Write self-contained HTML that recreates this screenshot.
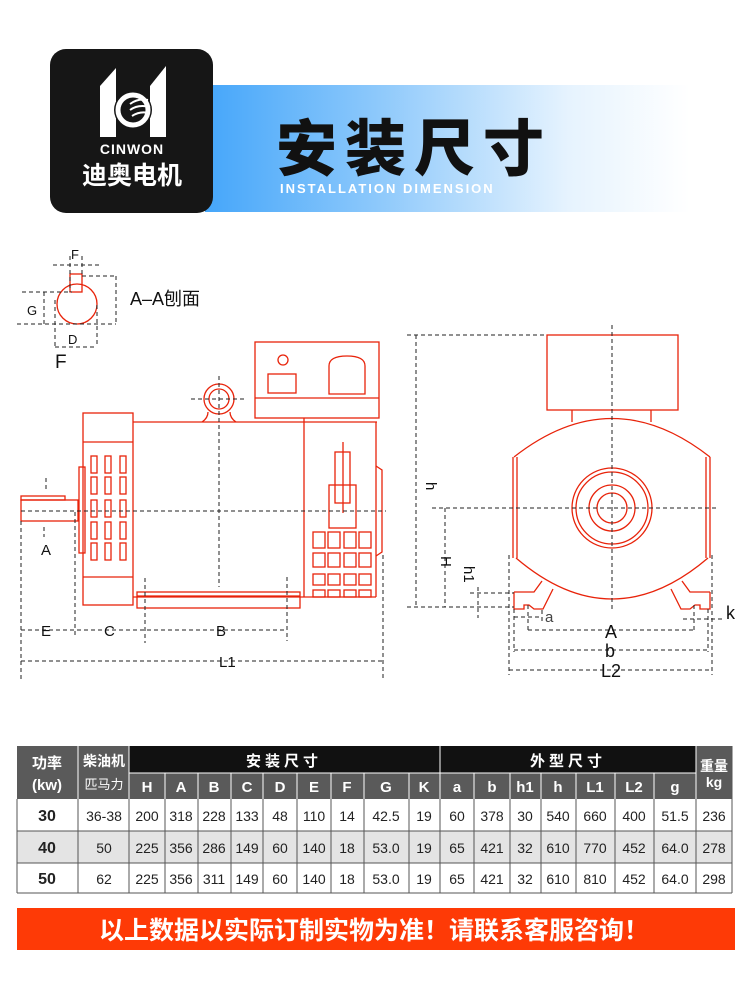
<!DOCTYPE html>
<html><head><meta charset="utf-8"><style>
html,body{margin:0;padding:0;background:#fff;}
svg{display:block;}
text{font-family:"Liberation Sans","Noto Sans CJK SC",sans-serif;}
</style></head><body>
<svg width="750" height="994" viewBox="0 0 750 994" xmlns="http://www.w3.org/2000/svg">
<defs>
<linearGradient id="bg" x1="0" x2="1" y1="0" y2="0">
<stop offset="0" stop-color="#45a6fa"/><stop offset="0.35" stop-color="#8cc8fb"/><stop offset="0.75" stop-color="#e6f3fe"/><stop offset="1" stop-color="#ffffff"/>
</linearGradient>
</defs>
<rect x="205" y="85" width="485" height="127" fill="url(#bg)"/>
<rect x="50" y="49" width="163" height="164" rx="16" fill="#161616"/>
<polygon points="100,137 100,86 116,68 116,137" fill="#fff"/>
<polygon points="150,137 150,86 166,66 166,137" fill="#fff"/>
<circle cx="133" cy="110" r="19" fill="#161616"/>
<circle cx="133" cy="110" r="15" fill="none" stroke="#fff" stroke-width="5"/>
<path d="M130 104 q8 -6 18 -4 M130 110 q8 -6 20 -3 M132 116 q8 -5 16 -3" stroke="#fff" stroke-width="2" fill="none"/>
<text x="132" y="154" font-size="14" font-weight="bold" fill="#fff" text-anchor="middle" letter-spacing="1">CINWON</text>
<text x="132" y="184" font-size="25" font-weight="bold" fill="#fff" text-anchor="middle">迪奥电机</text>
<text x="276" y="170" font-size="61" font-weight="900" fill="#111" letter-spacing="8">安装尺寸</text>
<text x="280" y="193" font-size="13" font-weight="bold" fill="#fff" letter-spacing="2">INSTALLATION DIMENSION</text>

<g fill="none" stroke="#e8230a" stroke-width="1.3">
<circle cx="77" cy="304" r="20"/>
<rect x="70" y="274" width="12" height="18"/>
<rect x="255" y="342" width="124" height="76"/>
<line x1="255" y1="398" x2="379" y2="398"/>
<circle cx="283" cy="360" r="5"/>
<rect x="268" y="374" width="28" height="19"/>
<path d="M329 394 V366 q0 -10 18 -10 q18 0 18 10 V394 Z"/>
<circle cx="219" cy="399" r="15"/><circle cx="219" cy="399" r="10"/>
<path d="M202 422 q6 -4 6 -10 M236 422 q-6 -4 -6 -10"/>
<line x1="133" y1="422" x2="377" y2="422"/>
<rect x="83" y="413" width="50" height="192"/>
<line x1="83" y1="442" x2="133" y2="442"/><line x1="83" y1="577" x2="133" y2="577"/>
<g>
<rect x="91" y="456" width="6" height="17"/><rect x="105" y="456" width="6" height="17"/><rect x="120" y="456" width="6" height="17"/>
<rect x="91" y="477" width="6" height="17"/><rect x="105" y="477" width="6" height="17"/><rect x="120" y="477" width="6" height="17"/>
<rect x="91" y="500" width="6" height="17"/><rect x="105" y="500" width="6" height="17"/><rect x="120" y="500" width="6" height="17"/>
<rect x="91" y="522" width="6" height="17"/><rect x="105" y="522" width="6" height="17"/><rect x="120" y="522" width="6" height="17"/>
<rect x="91" y="543" width="6" height="17"/><rect x="105" y="543" width="6" height="17"/><rect x="120" y="543" width="6" height="17"/>
</g>
<rect x="79" y="467" width="6" height="86"/>
<rect x="21" y="500" width="57" height="21"/>
<rect x="21" y="496" width="44" height="4"/>
<line x1="304" y1="418" x2="304" y2="597"/>
<line x1="376" y1="422" x2="376" y2="597"/>
<line x1="133" y1="597" x2="376" y2="597"/>
<path d="M376 466 l6 4 V552 l-6 4"/>
<rect x="335" y="452" width="15" height="51"/>
<rect x="329" y="485" width="27" height="43"/>
<line x1="343" y1="442" x2="343" y2="513"/>
<g>
<rect x="313" y="532" width="12" height="16"/><rect x="328" y="532" width="12" height="16"/><rect x="344" y="532" width="12" height="16"/><rect x="359" y="532" width="12" height="16"/>
<rect x="313" y="553" width="12" height="14"/><rect x="328" y="553" width="12" height="14"/><rect x="344" y="553" width="12" height="14"/><rect x="359" y="553" width="12" height="14"/>
<rect x="313" y="574" width="12" height="11"/><rect x="328" y="574" width="12" height="11"/><rect x="344" y="574" width="12" height="11"/><rect x="359" y="574" width="12" height="11"/>
<rect x="313" y="590" width="12" height="7"/><rect x="328" y="590" width="12" height="7"/><rect x="344" y="590" width="12" height="7"/><rect x="359" y="590" width="12" height="7"/>
</g>
<rect x="137" y="592" width="163" height="16"/>
<line x1="137" y1="596" x2="300" y2="596"/>
<rect x="547" y="335" width="131" height="75"/>
<line x1="572" y1="410" x2="572" y2="422"/><line x1="651" y1="410" x2="651" y2="422"/>
<path d="M514 457 Q612 380 710 457"/>
<path d="M516 558 Q612 640 708 558"/>
<line x1="513" y1="457" x2="513" y2="558"/><line x1="517" y1="457" x2="517" y2="558"/>
<line x1="706" y1="457" x2="706" y2="558"/><line x1="710" y1="457" x2="710" y2="558"/>
<circle cx="612" cy="508" r="40"/><circle cx="612" cy="508" r="36"/><circle cx="612" cy="508" r="23"/><circle cx="612" cy="508" r="15"/>
<path d="M514 592 h20 l8 -11 M514 592 v17 h10 v-4 h5 l5 4 h9 l10 -20"/>
<path d="M710 592 h-20 l-8 -11 M710 592 v17 h-10 v-4 h-5 l-5 4 h-9 l-10 -20"/>
</g>

<g fill="none" stroke="#222" stroke-width="1" stroke-dasharray="4,3">
<line x1="53" y1="265" x2="99" y2="265"/><line x1="70" y1="256" x2="70" y2="292"/><line x1="82" y1="256" x2="82" y2="274"/>
<line x1="82" y1="276" x2="116" y2="276"/><line x1="116" y1="276" x2="116" y2="324"/>
<line x1="22" y1="292" x2="72" y2="292"/><line x1="44" y1="292" x2="44" y2="324"/>
<line x1="17" y1="324" x2="116" y2="324"/>
<line x1="55" y1="300" x2="55" y2="347"/><line x1="97" y1="305" x2="97" y2="347"/><line x1="55" y1="347" x2="97" y2="347"/>
<line x1="21" y1="511" x2="386" y2="511"/>
<line x1="219" y1="376" x2="219" y2="587"/>
<line x1="191" y1="399" x2="247" y2="399"/>
<line x1="46" y1="478" x2="46" y2="490"/><line x1="44" y1="527" x2="44" y2="537"/>
<line x1="21" y1="521" x2="21" y2="680"/><line x1="75" y1="512" x2="75" y2="637"/>
<line x1="145" y1="578" x2="145" y2="643"/><line x1="287" y1="577" x2="287" y2="641"/>
<line x1="383" y1="555" x2="383" y2="680"/>
<line x1="21" y1="630" x2="287" y2="630"/>
<line x1="21" y1="661" x2="383" y2="661"/>
<line x1="612" y1="325" x2="612" y2="610"/>
<line x1="432" y1="508" x2="718" y2="508"/>
<line x1="407" y1="335" x2="547" y2="335"/>
<line x1="416" y1="335" x2="416" y2="607"/>
<line x1="407" y1="607" x2="514" y2="607"/>
<line x1="445" y1="508" x2="445" y2="607"/>
<line x1="478" y1="587" x2="478" y2="618"/>
<line x1="470" y1="593" x2="514" y2="593"/>
<line x1="509" y1="555" x2="509" y2="675"/><line x1="712" y1="555" x2="712" y2="675"/>
<line x1="514" y1="609" x2="514" y2="652"/><line x1="708" y1="609" x2="708" y2="652"/>
<line x1="528" y1="605" x2="528" y2="632"/><line x1="694" y1="605" x2="694" y2="632"/>
<line x1="542" y1="610" x2="542" y2="622"/>
<line x1="514" y1="617" x2="542" y2="617"/>
<line x1="528" y1="630" x2="694" y2="630"/>
<line x1="514" y1="650" x2="708" y2="650"/>
<line x1="509" y1="670" x2="712" y2="670"/>
<line x1="683" y1="619" x2="725" y2="619"/>
</g>

<g fill="#111" font-size="15">
<text x="71" y="259" font-size="13">F</text>
<text x="27" y="315" font-size="13">G</text>
<text x="68" y="344" font-size="13">D</text>
<text x="55" y="368" font-size="19">F</text>
<text x="130" y="305" font-size="18">A–A刨面</text>
<text x="41" y="555">A</text>
<text x="41" y="636">E</text>
<text x="104" y="636">C</text>
<text x="216" y="636">B</text>
<text x="219" y="667">L1</text>
<text x="426" y="482" transform="rotate(90 426 482)">h</text>
<text x="441" y="556" transform="rotate(90 441 556)">H</text>
<text x="464" y="566" transform="rotate(90 464 566)">h1</text>
<text x="545" y="622" fill="#444">a</text>
<text x="605" y="638" font-size="18">A</text>
<text x="605" y="657" font-size="18">b</text>
<text x="601" y="677" font-size="18">L2</text>
<text x="726" y="619" font-size="18">k</text>
</g>

<g>
<rect x="17" y="746" width="715" height="53" fill="#5a5a5a"/>
<rect x="129" y="746" width="311" height="27" fill="#111"/>
<rect x="440" y="746" width="256" height="27" fill="#111"/>
<rect x="17" y="799" width="715" height="32" fill="#fff"/>
<rect x="17" y="831" width="715" height="32" fill="#e4e4e4"/>
<rect x="17" y="863" width="715" height="30" fill="#fff"/>
<g stroke="#fff" stroke-width="1">
<line x1="129" y1="773" x2="696" y2="773"/>
<line x1="78" y1="746" x2="78" y2="799"/><line x1="129" y1="746" x2="129" y2="799"/>
<line x1="440" y1="746" x2="440" y2="799"/><line x1="696" y1="746" x2="696" y2="799"/>
<line x1="165" y1="773" x2="165" y2="799"/><line x1="198" y1="773" x2="198" y2="799"/><line x1="231" y1="773" x2="231" y2="799"/><line x1="263" y1="773" x2="263" y2="799"/><line x1="297" y1="773" x2="297" y2="799"/><line x1="331" y1="773" x2="331" y2="799"/><line x1="364" y1="773" x2="364" y2="799"/><line x1="409" y1="773" x2="409" y2="799"/><line x1="474" y1="773" x2="474" y2="799"/><line x1="510" y1="773" x2="510" y2="799"/><line x1="541" y1="773" x2="541" y2="799"/><line x1="576" y1="773" x2="576" y2="799"/><line x1="615" y1="773" x2="615" y2="799"/><line x1="654" y1="773" x2="654" y2="799"/>
</g>
<g stroke="#555" stroke-width="1">
<line x1="17" y1="831" x2="732" y2="831"/><line x1="17" y1="863" x2="732" y2="863"/><line x1="17" y1="893" x2="732" y2="893"/>
<line x1="17" y1="799" x2="17" y2="893"/><line x1="732" y1="746" x2="732" y2="893"/>
<line x1="78" y1="799" x2="78" y2="893"/><line x1="129" y1="799" x2="129" y2="893"/><line x1="165" y1="799" x2="165" y2="893"/><line x1="198" y1="799" x2="198" y2="893"/><line x1="231" y1="799" x2="231" y2="893"/><line x1="263" y1="799" x2="263" y2="893"/><line x1="297" y1="799" x2="297" y2="893"/><line x1="331" y1="799" x2="331" y2="893"/><line x1="364" y1="799" x2="364" y2="893"/><line x1="409" y1="799" x2="409" y2="893"/><line x1="440" y1="799" x2="440" y2="893"/><line x1="474" y1="799" x2="474" y2="893"/><line x1="510" y1="799" x2="510" y2="893"/><line x1="541" y1="799" x2="541" y2="893"/><line x1="576" y1="799" x2="576" y2="893"/><line x1="615" y1="799" x2="615" y2="893"/><line x1="654" y1="799" x2="654" y2="893"/><line x1="696" y1="799" x2="696" y2="893"/>
</g>
<g fill="#fff" font-weight="bold" text-anchor="middle" font-size="15">
<text x="47" y="768">功率</text><text x="47" y="790">(kw)</text>
<text x="104" y="766" font-size="14">柴油机</text><text x="104" y="789" font-size="13" font-weight="normal">匹马力</text>
<text x="284" y="766" letter-spacing="4">安装尺寸</text>
<text x="568" y="766" letter-spacing="4">外型尺寸</text>
<text x="714" y="771" font-size="14">重量</text><text x="714" y="787" font-size="14">kg</text>
<text x="147" y="792">H</text><text x="181" y="792">A</text><text x="214" y="792">B</text><text x="247" y="792">C</text><text x="280" y="792">D</text><text x="314" y="792">E</text><text x="347" y="792">F</text><text x="386" y="792">G</text><text x="424" y="792">K</text>
<text x="457" y="792">a</text><text x="492" y="792">b</text><text x="525" y="792">h1</text><text x="558" y="792">h</text><text x="595" y="792">L1</text><text x="634" y="792">L2</text><text x="675" y="792">g</text>
</g>
<g fill="#222" text-anchor="middle" font-size="14">
<g font-weight="bold" font-size="16"><text x="47" y="821">30</text><text x="47" y="853">40</text><text x="47" y="884">50</text></g>
<text x="104" y="821">36-38</text><text x="147" y="821">200</text><text x="181" y="821">318</text><text x="214" y="821">228</text><text x="247" y="821">133</text><text x="280" y="821">48</text><text x="314" y="821">110</text><text x="347" y="821">14</text><text x="386" y="821">42.5</text><text x="424" y="821">19</text><text x="457" y="821">60</text><text x="492" y="821">378</text><text x="525" y="821">30</text><text x="558" y="821">540</text><text x="595" y="821">660</text><text x="634" y="821">400</text><text x="675" y="821">51.5</text><text x="714" y="821">236</text>
<text x="104" y="853">50</text><text x="147" y="853">225</text><text x="181" y="853">356</text><text x="214" y="853">286</text><text x="247" y="853">149</text><text x="280" y="853">60</text><text x="314" y="853">140</text><text x="347" y="853">18</text><text x="386" y="853">53.0</text><text x="424" y="853">19</text><text x="457" y="853">65</text><text x="492" y="853">421</text><text x="525" y="853">32</text><text x="558" y="853">610</text><text x="595" y="853">770</text><text x="634" y="853">452</text><text x="675" y="853">64.0</text><text x="714" y="853">278</text>
<text x="104" y="884">62</text><text x="147" y="884">225</text><text x="181" y="884">356</text><text x="214" y="884">311</text><text x="247" y="884">149</text><text x="280" y="884">60</text><text x="314" y="884">140</text><text x="347" y="884">18</text><text x="386" y="884">53.0</text><text x="424" y="884">19</text><text x="457" y="884">65</text><text x="492" y="884">421</text><text x="525" y="884">32</text><text x="558" y="884">610</text><text x="595" y="884">810</text><text x="634" y="884">452</text><text x="675" y="884">64.0</text><text x="714" y="884">298</text>
</g>
</g>

<rect x="17" y="908" width="718" height="42" fill="#fe3a06"/>
<text x="374" y="939" font-size="25" font-weight="bold" fill="#fff" text-anchor="middle">以上数据以实际订制实物为准！请联系客服咨询！</text>
</svg>
</body></html>
